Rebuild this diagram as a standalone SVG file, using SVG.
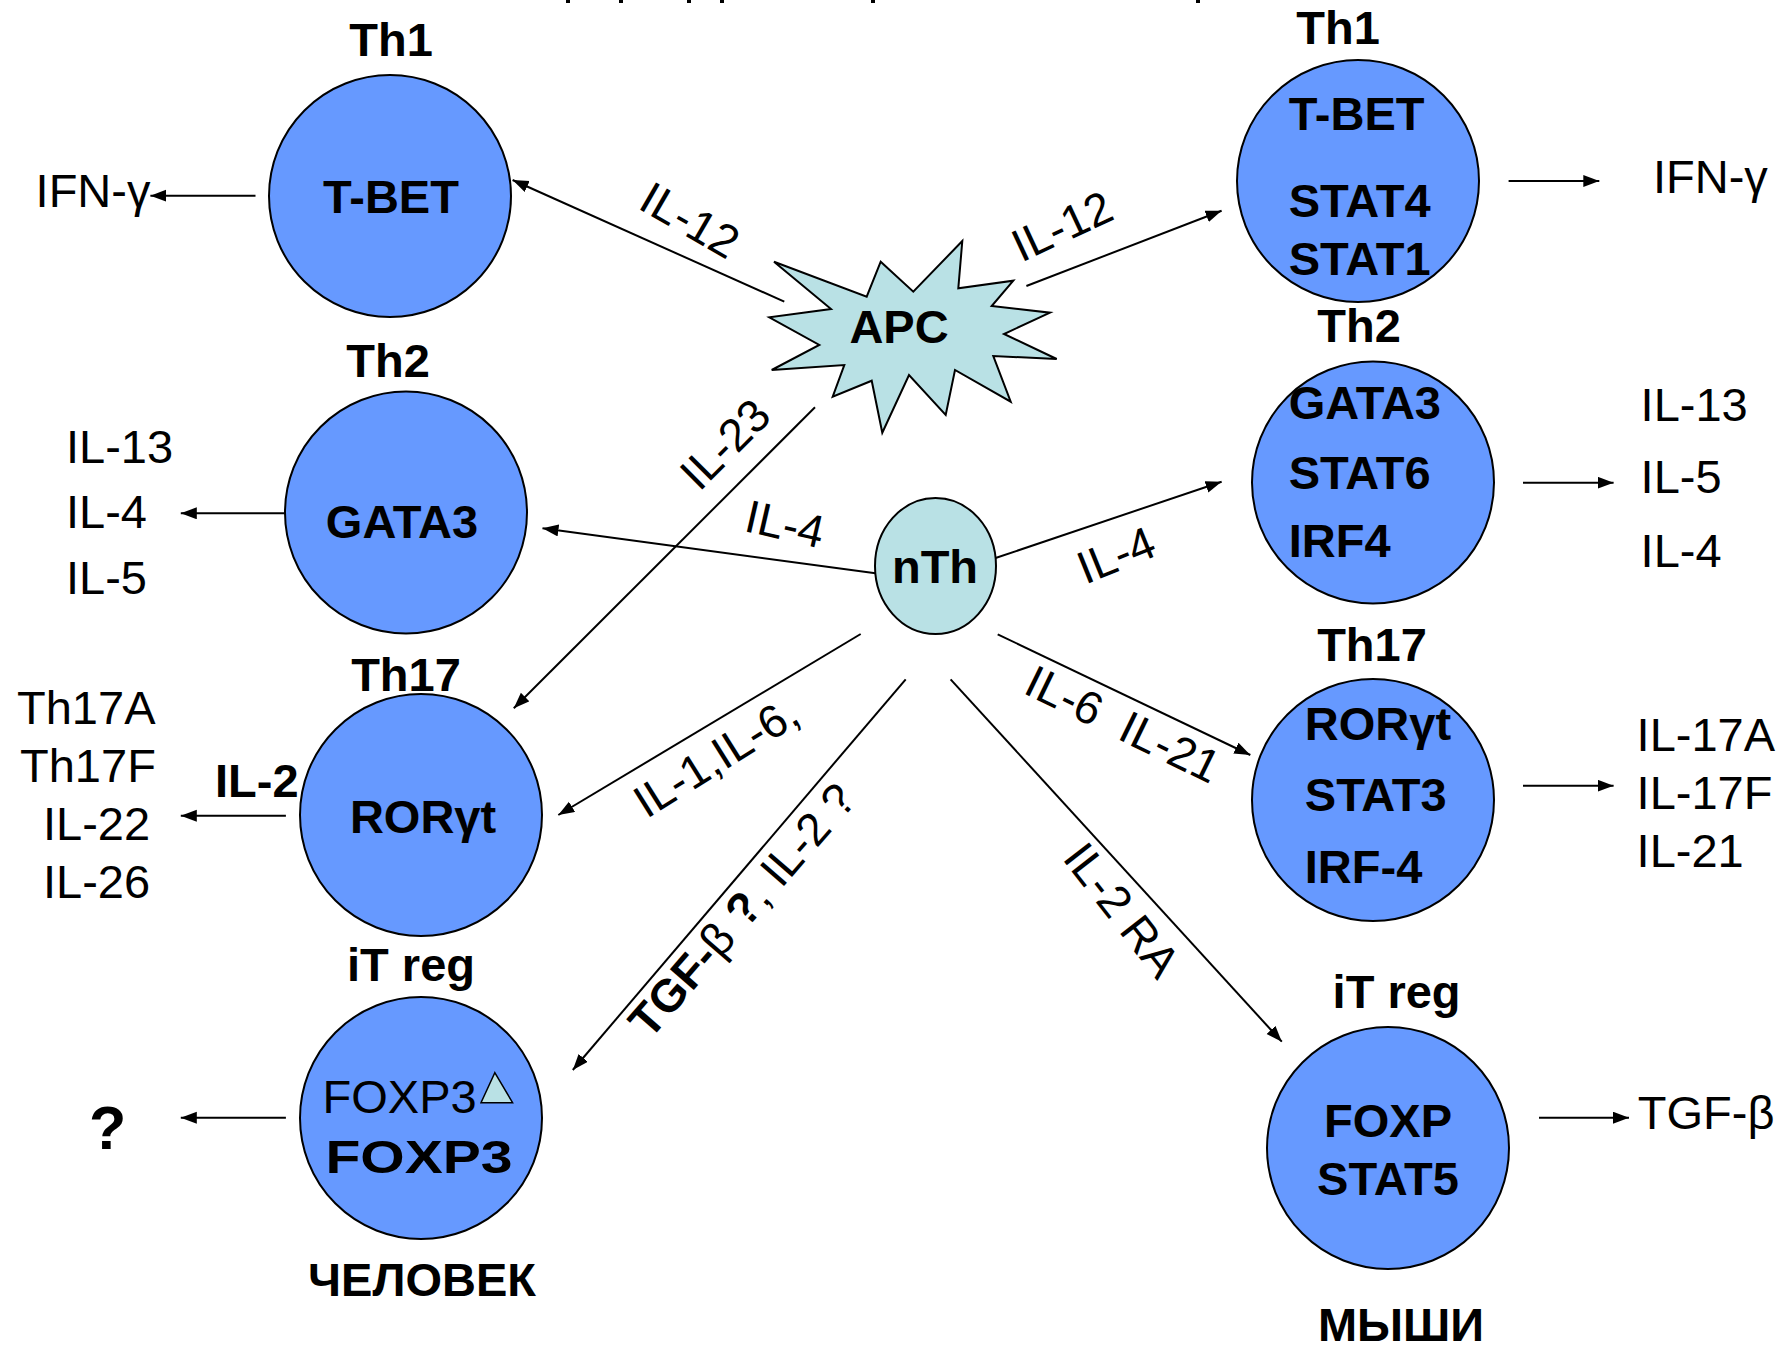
<svg xmlns="http://www.w3.org/2000/svg" width="1782" height="1351" viewBox="0 0 1782 1351">
<defs>
<style>
.cell{fill:#6699ff;stroke:#000;stroke-width:2}
.pale{fill:#b9e1e5;stroke:#000;stroke-width:2}
text{font-family:"Liberation Sans",Arial,sans-serif;fill:#000}
.b{font-weight:bold;font-size:47px}
.r{font-size:47px}
.lab{font-size:46px}
.mid{text-anchor:middle}
.con line{stroke:#000;stroke-width:2;fill:none}
</style>
<marker id="ah" markerUnits="userSpaceOnUse" markerWidth="18" markerHeight="14" refX="16" refY="6" orient="auto">
<path d="M0,0 L16,6 L0,12 z" fill="#000"/>
</marker>
</defs>
<rect width="1782" height="1351" fill="#fff"/>
<g id="topmarks" fill="#000">
<rect x="566" y="0" width="4" height="3"/><rect x="619" y="0" width="4" height="3"/><rect x="687" y="0" width="4" height="3"/><rect x="720" y="0" width="4" height="3"/><rect x="871" y="0" width="4" height="3"/><rect x="1196" y="0" width="4" height="3"/>
</g>
<g class="con" id="connectors">
<line x1="255.5" y1="195.7" x2="150.4" y2="195.7" marker-end="url(#ah)"/>
<line x1="286" y1="513.3" x2="180.8" y2="513.3" marker-end="url(#ah)"/>
<line x1="285.9" y1="815.7" x2="180.8" y2="815.7" marker-end="url(#ah)"/>
<line x1="285.9" y1="1117.7" x2="180.8" y2="1117.7" marker-end="url(#ah)"/>
<line x1="1508.6" y1="181" x2="1599.3" y2="181" marker-end="url(#ah)"/>
<line x1="1523" y1="482.7" x2="1613.6" y2="482.7" marker-end="url(#ah)"/>
<line x1="1523" y1="785.7" x2="1613.6" y2="785.7" marker-end="url(#ah)"/>
<line x1="1539" y1="1117.7" x2="1629" y2="1117.7" marker-end="url(#ah)"/>
<line x1="784.3" y1="301.7" x2="512.6" y2="180" marker-end="url(#ah)"/>
<line x1="1026.4" y1="286" x2="1221.6" y2="210.7" marker-end="url(#ah)"/>
<line x1="815" y1="407.3" x2="513.8" y2="708.3" marker-end="url(#ah)"/>
<line x1="875.4" y1="573.3" x2="542.5" y2="528.3" marker-end="url(#ah)"/>
<line x1="994.8" y1="558.3" x2="1221.6" y2="481.7" marker-end="url(#ah)"/>
<line x1="860.7" y1="634" x2="558.3" y2="815" marker-end="url(#ah)"/>
<line x1="905.7" y1="679.3" x2="572.8" y2="1070" marker-end="url(#ah)"/>
<line x1="950.6" y1="679.3" x2="1281.8" y2="1041.7" marker-end="url(#ah)"/>
<line x1="997.7" y1="634.3" x2="1250.3" y2="755" marker-end="url(#ah)"/>
</g>
<g id="labels">
<text class="lab mid" transform="translate(690,220) rotate(30)" y="16">IL-12</text>
<text class="lab mid" transform="translate(1062,226) rotate(-25)" y="16">IL-12</text>
<text class="lab mid" transform="translate(725,444) rotate(-45)" y="16">IL-23</text>
<text class="lab mid" transform="translate(785,524) rotate(13)" y="16">IL-4</text>
<text class="lab mid" transform="translate(1116,555) rotate(-22)" y="16">IL-4</text>
<text class="lab mid" transform="translate(716,757) rotate(-32)" y="16">IL-1,IL-6,</text>
<text class="lab mid" transform="translate(742,910) rotate(-49)" y="16"><tspan font-weight="bold">TGF-</tspan>β<tspan font-weight="bold"> ?</tspan>, IL-2 ?</text>
<text class="lab mid" transform="translate(1123,724) rotate(26)" y="16" xml:space="preserve">IL-6  IL-21</text>
<text class="lab mid" transform="translate(1122,910) rotate(52)" y="16">IL-2 RA</text>
</g>
<g id="apc">
<polygon class="pale" points="774,261.7 866.7,296.7 880.7,261.7 913.3,291.7 962.3,241 958.3,288.3 1013.3,280.7 991.7,306 1050,312.7 1004,334 1056.7,359 993.3,356 1010.7,401.7 955,370 945.7,415 909,375 882.3,432.7 871.7,380.7 832.7,396.7 844.3,365 771.7,370 819.3,345 769.3,317.3 831,309"/>
<text class="b mid" x="899" y="343">APC</text>
</g>
<g id="nth">
<ellipse class="pale" cx="935.5" cy="566" rx="60.5" ry="68"/>
<text class="b mid" x="935" y="583">nTh</text>
</g>
<g id="th1-left">
<text class="b mid" x="391" y="56">Th1</text>
<circle class="cell" cx="390" cy="196" r="121"/>
<text class="b mid" x="391" y="212.7">T-BET</text>
<text class="r" x="35.6" y="207">IFN-γ</text>
</g>
<g id="th2-left">
<text class="b mid" x="388" y="377">Th2</text>
<circle class="cell" cx="406" cy="512.5" r="121"/>
<text class="b mid" x="402" y="538.3">GATA3</text>
<text class="r" x="66" y="462.7">IL-13</text>
<text class="r" x="66" y="528.3">IL-4</text>
<text class="r" x="66" y="594.3">IL-5</text>
</g>
<g id="th17-left">
<text class="b mid" x="406" y="690.7">Th17</text>
<circle class="cell" cx="421" cy="815" r="121"/>
<text class="b mid" x="423" y="833.3">RORγt</text>
<text class="r" x="17" y="724">Th17A</text>
<text class="r" x="20" y="781.7">Th17F</text>
<text class="r" x="43" y="840">IL-22</text>
<text class="r" x="43" y="898">IL-26</text>
<text class="b" x="215" y="796.7">IL-2</text>
</g>
<g id="treg-human">
<text class="b mid" x="411" y="980.7">iT reg</text>
<circle class="cell" cx="421" cy="1118" r="121"/>
<text class="r" x="322.6" y="1113.3">FOXP3</text>
<polygon points="494.8,1072.7 481,1102.7 512.6,1102.7" fill="#b9e1e5" stroke="#000" stroke-width="1.5"/>
<text x="325.5" y="1173.3" font-family="'DejaVu Serif','Liberation Serif',serif" font-weight="bold" font-size="46" textLength="187" lengthAdjust="spacingAndGlyphs">FOXP3</text>
<text class="b" x="89" y="1149" style="font-size:61px">?</text>
<text class="b mid" x="422" y="1296">ЧЕЛОВЕК</text>
</g>
<g id="th1-right">
<text class="b mid" x="1338" y="44">Th1</text>
<circle class="cell" cx="1358" cy="181" r="121"/>
<text class="b" x="1288.7" y="130">T-BET</text>
<text class="b" x="1288.7" y="217.3">STAT4</text>
<text class="b" x="1288.7" y="275">STAT1</text>
<text class="r" x="1653" y="193">IFN-γ</text>
</g>
<g id="th2-right">
<text class="b mid" x="1359" y="341.7">Th2</text>
<circle class="cell" cx="1373" cy="482.5" r="121"/>
<text class="b" x="1288.7" y="419.3">GATA3</text>
<text class="b" x="1288.7" y="489.3">STAT6</text>
<text class="b" x="1288.7" y="556.7">IRF4</text>
<text class="r" x="1640.6" y="420.7">IL-13</text>
<text class="r" x="1640.6" y="493.3">IL-5</text>
<text class="r" x="1640.6" y="566.7">IL-4</text>
</g>
<g id="th17-right">
<text class="b mid" x="1372" y="660.7">Th17</text>
<circle class="cell" cx="1373" cy="800" r="121"/>
<text class="b" x="1304.8" y="740">RORγt</text>
<text class="b" x="1304.8" y="810.7">STAT3</text>
<text class="b" x="1304.8" y="883.3">IRF-4</text>
<text class="r" x="1636.6" y="750.7">IL-17A</text>
<text class="r" x="1636.6" y="809.3">IL-17F</text>
<text class="r" x="1636.6" y="866.7">IL-21</text>
</g>
<g id="treg-mice">
<text class="b mid" x="1396.6" y="1007.7">iT reg</text>
<circle class="cell" cx="1388" cy="1148" r="121"/>
<text class="b mid" x="1388" y="1137.3">FOXP</text>
<text class="b mid" x="1388" y="1195">STAT5</text>
<text class="r" x="1637.8" y="1129.3">TGF-β</text>
<text class="b mid" x="1401" y="1341">МЫШИ</text>
</g>
</svg>
